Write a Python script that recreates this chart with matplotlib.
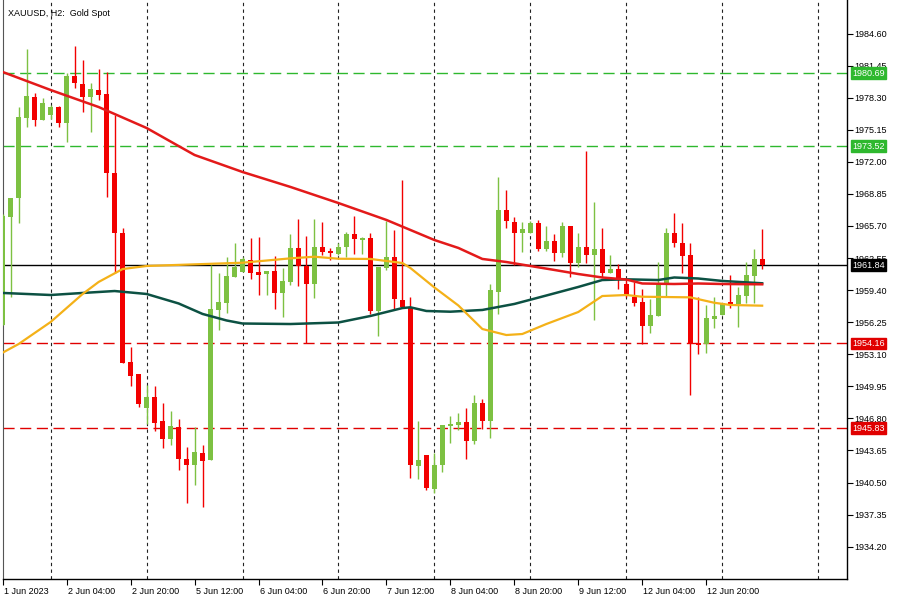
import matplotlib
matplotlib.use("Agg")
import matplotlib.pyplot as plt
import matplotlib.transforms as mtransforms
import numpy as np

# XAUUSD H2 candles, one entry per bar (bar 0 = left edge of the chart)
opens = [1955.97, 1966.58, 1968.45, 1976.30, 1978.36, 1976.11, 1976.60, 1977.38, 1975.81, 1980.43,
         1979.64, 1978.36, 1979.05, 1978.66, 1970.90, 1965.01, 1952.34, 1951.16, 1947.82, 1948.90,
         1946.55, 1944.78, 1945.96, 1942.82, 1942.23, 1943.41, 1942.72, 1957.45, 1958.14, 1960.69,
         1961.18, 1962.36, 1961.18, 1960.98, 1961.28, 1959.12, 1960.20, 1963.54, 1961.77, 1960.00,
         1963.63, 1963.24, 1962.95, 1963.63, 1964.91, 1964.32, 1964.52, 1957.35, 1961.57, 1962.65,
         1958.43, 1957.74, 1942.13, 1943.21, 1939.87, 1942.23, 1946.06, 1946.15, 1946.45, 1944.58,
         1948.32, 1946.55, 1959.22, 1967.27, 1966.09, 1965.01, 1965.01, 1965.99, 1963.44, 1964.22,
         1963.05, 1965.70, 1962.06, 1963.63, 1962.85, 1963.44, 1961.08, 1961.47, 1960.00, 1958.72,
         1958.23, 1955.88, 1956.86, 1960.10, 1965.01, 1964.03, 1962.85, 1954.21, 1954.11, 1956.56,
         1956.96, 1958.23, 1958.04, 1958.82, 1960.79, 1962.46]
highs = [1966.88, 1968.45, 1977.38, 1983.08, 1978.76, 1978.27, 1977.58, 1977.48, 1980.72, 1983.37,
         1982.00, 1979.74, 1981.11, 1980.82, 1976.60, 1965.50, 1953.81, 1951.16, 1950.08, 1949.98,
         1948.32, 1947.53, 1946.74, 1943.99, 1945.96, 1944.19, 1961.87, 1961.08, 1962.65, 1964.03,
         1962.65, 1964.52, 1964.62, 1961.28, 1962.75, 1961.57, 1964.91, 1966.38, 1964.71, 1966.38,
         1966.09, 1963.54, 1964.03, 1965.11, 1966.68, 1964.62, 1965.01, 1961.67, 1966.19, 1965.30,
         1970.21, 1958.72, 1946.55, 1943.21, 1943.41, 1946.15, 1947.04, 1947.33, 1947.82, 1949.10,
         1948.71, 1960.00, 1970.51, 1969.23, 1966.58, 1966.09, 1966.19, 1966.29, 1965.70, 1964.91,
         1966.09, 1965.70, 1965.01, 1973.06, 1968.05, 1965.50, 1962.85, 1961.97, 1960.39, 1960.20,
         1959.51, 1958.53, 1962.16, 1965.50, 1966.97, 1965.99, 1964.03, 1958.72, 1957.94, 1958.72,
         1958.14, 1960.88, 1959.71, 1962.16, 1963.44, 1965.40]
lows = [1955.97, 1958.72, 1965.99, 1975.42, 1975.52, 1976.11, 1976.20, 1975.42, 1973.95, 1979.25,
        1976.89, 1974.93, 1978.07, 1968.54, 1961.08, 1952.24, 1949.98, 1947.92, 1946.25, 1945.57,
        1943.90, 1944.19, 1941.74, 1938.50, 1940.26, 1938.10, 1942.72, 1955.48, 1957.15, 1960.69,
        1961.18, 1960.49, 1958.92, 1958.92, 1957.55, 1956.76, 1959.90, 1959.80, 1954.21, 1958.63,
        1962.85, 1962.36, 1962.85, 1962.65, 1962.95, 1962.95, 1957.06, 1954.89, 1961.38, 1957.55,
        1957.74, 1940.95, 1940.85, 1939.77, 1939.48, 1941.54, 1944.39, 1945.66, 1942.82, 1944.29,
        1945.76, 1944.88, 1957.06, 1965.50, 1961.87, 1963.14, 1965.01, 1963.24, 1963.24, 1962.26,
        1962.65, 1960.69, 1961.67, 1962.06, 1956.47, 1960.69, 1961.08, 1959.51, 1958.72, 1957.84,
        1954.11, 1955.19, 1956.86, 1958.82, 1963.63, 1961.08, 1949.10, 1953.13, 1953.23, 1955.68,
        1956.96, 1957.64, 1955.78, 1958.14, 1958.14, 1961.47]
closes = [1966.68, 1968.45, 1976.40, 1978.46, 1976.11, 1977.78, 1977.38, 1975.81, 1980.43, 1979.74,
          1978.36, 1979.15, 1978.56, 1970.90, 1965.01, 1952.24, 1950.97, 1948.22, 1948.90, 1946.35,
          1944.78, 1946.06, 1942.82, 1942.23, 1943.50, 1942.62, 1957.55, 1958.23, 1960.79, 1961.67,
          1962.46, 1961.08, 1960.88, 1961.28, 1959.12, 1960.30, 1963.54, 1961.77, 1960.00, 1963.63,
          1963.14, 1963.05, 1963.63, 1964.91, 1964.42, 1964.52, 1957.35, 1961.67, 1962.65, 1958.53,
          1957.74, 1942.23, 1942.72, 1939.97, 1942.23, 1946.15, 1946.25, 1946.45, 1944.58, 1948.32,
          1946.55, 1959.41, 1967.27, 1966.19, 1965.01, 1965.40, 1965.99, 1963.44, 1964.22, 1963.05,
          1965.70, 1962.06, 1963.63, 1962.85, 1963.44, 1961.08, 1961.47, 1960.49, 1958.92, 1958.14,
          1955.88, 1956.96, 1960.10, 1965.01, 1964.03, 1962.75, 1954.11, 1954.01, 1956.66, 1956.86,
          1958.14, 1957.94, 1958.92, 1960.88, 1962.46, 1961.84]

# moving averages (bar index, price)
ma_red_bars = [0, 6, 12, 18, 22, 24, 30, 36, 42, 48, 54, 57, 60, 63, 66, 69, 72, 75, 78, 80, 84, 87, 90, 95]
ma_red_vals = [1980.82, 1979.05, 1977.38, 1975.32, 1973.55, 1972.67, 1971.00, 1969.53, 1967.95, 1966.29,
               1964.32, 1963.54, 1962.46, 1962.16, 1961.77, 1961.38, 1960.98, 1960.64, 1960.44, 1960.05,
               1960.00, 1960.05, 1960.00, 1959.97]
ma_teal_bars = [0, 6, 10, 14, 18, 22, 25, 28, 30, 36, 42, 46, 50, 51, 53, 56, 60, 64, 68, 72, 75, 78, 82,
                84, 87, 90, 95]
ma_teal_vals = [1959.12, 1958.92, 1959.12, 1959.31, 1959.02, 1958.09, 1957.06, 1956.42, 1956.12, 1956.07,
                1956.22, 1956.86, 1957.64, 1957.71, 1957.35, 1957.28, 1957.45, 1958.04, 1958.87, 1959.71,
                1960.39, 1960.46, 1960.39, 1960.64, 1960.54, 1960.30, 1960.07]
ma_orange_bars = [0, 2, 6, 10, 12, 15, 18, 24, 30, 36, 39, 42, 46, 50, 51, 54, 57, 60, 63, 65, 68, 72, 75,
                  78, 80, 86, 89, 91, 95]
ma_orange_vals = [1953.26, 1954.11, 1956.27, 1959.02, 1960.20, 1961.47, 1961.77, 1961.93, 1962.09, 1962.52,
                  1962.68, 1962.48, 1962.46, 1962.06, 1961.57, 1959.66, 1957.89, 1955.58, 1954.99, 1955.09,
                  1956.07, 1957.25, 1958.82, 1958.92, 1958.75, 1958.69, 1958.16, 1957.94, 1957.87]

green_levels = [1980.69, 1973.52]
red_levels = [1954.16, 1945.83]
bid = 1961.84

y_ticks = [1934.20, 1937.35, 1940.50, 1943.65, 1946.80, 1949.95, 1953.10, 1956.25, 1959.40,
           1962.55, 1965.70, 1968.85, 1972.00, 1975.15, 1978.30, 1981.45, 1984.60]
x_tick_bars = [0, 8, 16, 24, 32, 40, 48, 56, 64, 72, 80, 88]
x_tick_labels = ["1 Jun 2023", "2 Jun 04:00", "2 Jun 20:00", "5 Jun 12:00", "6 Jun 04:00",
                 "6 Jun 20:00", "7 Jun 12:00", "8 Jun 04:00", "8 Jun 20:00", "9 Jun 12:00",
                 "12 Jun 04:00", "12 Jun 20:00"]
day_sep_bars = [6, 18, 30, 42, 54, 66, 78, 90, 102]

UP = "#7DC142"
DOWN = "#F20000"
FONT = "Liberation Sans"

fig = plt.figure(figsize=(9, 6), dpi=100)
ax = fig.add_axes([0.003, 0.035, 0.938, 0.965])

o = np.array(opens); h = np.array(highs); l = np.array(lows); c = np.array(closes)
x = np.arange(len(o))
col = np.where(c >= o, UP, DOWN)

for xs in day_sep_bars:
    ax.axvline(xs, color="#222222", lw=0.8, ls=(0, (3, 3)), zorder=1)

for lv in green_levels:
    ax.axhline(lv, color="#2EB82E", lw=1.0, ls=(0, (8, 4)), zorder=1)
for lv in red_levels:
    ax.axhline(lv, color="#E00000", lw=1.0, ls=(0, (8, 4)), zorder=1)
ax.axhline(bid, color="black", lw=1.0, zorder=2)

ax.vlines(x, l, h, colors=col, lw=1.0, zorder=3)
body_lo = np.minimum(o, c)
body_h = np.maximum(np.abs(c - o), 0.12)
ax.bar(x, body_h, bottom=body_lo, width=0.62, color=col, edgecolor=col, lw=0, zorder=3)

ax.plot(ma_teal_bars, ma_teal_vals, color="#0C5143", lw=1.8, zorder=4)
ax.plot(ma_orange_bars, ma_orange_vals, color="#F4B118", lw=1.6, zorder=4)
ax.plot(ma_red_bars, ma_red_vals, color="#E31A1A", lw=1.8, zorder=5)

ax.set_xlim(0.05, 105.6)
ax.set_ylim(1931.03, 1987.89)

ax.spines["top"].set_visible(False)
ax.spines["left"].set_color("#555555")
for s in ("right", "bottom"):
    ax.spines[s].set_color("black")
    ax.spines[s].set_linewidth(1.0)

ax.yaxis.tick_right()
ax.set_yticks(y_ticks)
ax.set_yticklabels(["%.2f" % v for v in y_ticks], fontsize=6.5, family=FONT)
ax.tick_params(axis="y", length=4, width=0.8, pad=1.5)

ax.set_xticks(x_tick_bars)
ax.set_xticklabels(x_tick_labels, fontsize=6.5, family=FONT)
ax.tick_params(axis="x", length=4, width=0.8, pad=2)
offset = mtransforms.ScaledTranslation(1 / 100, 0, fig.dpi_scale_trans)
for lab in ax.get_xticklabels():
    lab.set_horizontalalignment("left")
    lab.set_transform(lab.get_transform() + offset)

# price tags on the right scale
tr = mtransforms.blended_transform_factory(ax.transAxes, ax.transData)
tags = [(v, "#2EB82E") for v in green_levels] + [(v, "#E00000") for v in red_levels] + [(bid, "black")]
for v, cc in tags:
    ax.text(1.006, v, "%.2f" % v, transform=tr, fontsize=6.5, family=FONT, color="white",
            va="center", ha="left", zorder=10, clip_on=False,
            bbox=dict(boxstyle="square,pad=0.15", fc=cc, ec=cc))

ax.text(0.006, 0.985, "XAUUSD, H2:  Gold Spot", transform=ax.transAxes, fontsize=6.5,
        family=FONT, va="top", ha="left")

fig.savefig("out.png", dpi=100)
